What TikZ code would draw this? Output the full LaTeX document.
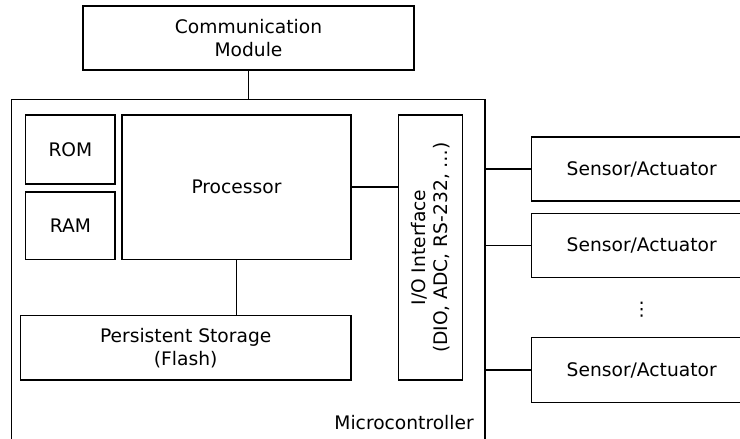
\documentclass[tikz,border=0pt]{standalone}
\usepackage{fontspec}
\setmainfont{DejaVu Sans}
\begin{document}
\begin{tikzpicture}[x=0.75pt,y=-0.75pt,
  box/.style={draw=black,line width=1.1pt,inner sep=0pt,align=center,
    font=\fontsize{14pt}{17pt}\selectfont},
  wire/.style={draw=black,line width=1.1pt},
  lbl/.style={inner sep=0pt,font=\fontsize{14pt}{17pt}\selectfont}]
\useasboundingbox (0,0) rectangle (740,439);
\begin{scope}
\clip (0,0) rectangle (740,439);
% outer microcontroller frame (runs past the lower edge)
\node[box,minimum width=473.3*0.75pt,minimum height=360.7*0.75pt] (micro) at (248.35,279.65) {};
% sensor boxes (run past the right edge)
\node[box,minimum width=220*0.75pt,minimum height=64*0.75pt] (s1) at (641.7,169) {Sensor/Actuator};
\node[box,minimum width=220*0.75pt,minimum height=64*0.75pt] (s2) at (641.7,245.7) {Sensor/Actuator};
\node[box,minimum width=220*0.75pt,minimum height=64.6*0.75pt] (s3) at (641.7,370) {Sensor/Actuator};
\end{scope}
\node[lbl] (dots) at (641.7,310) {⋮};
\node[lbl,anchor=base east] (microlbl) at (474,429) {Microcontroller};

\node[box,minimum width=331*0.75pt,minimum height=64*0.75pt] (comm) at (248.5,38) {Communication\\Module};
\node[box,minimum width=89.3*0.75pt,minimum height=69*0.75pt] (rom) at (70.4,149.5) {ROM};
\node[box,minimum width=89.3*0.75pt,minimum height=67.3*0.75pt] (ram) at (70.4,225.7) {RAM};
\node[box,minimum width=229*0.75pt,minimum height=144.3*0.75pt] (proc) at (236.5,187.2) {Processor};
\node[box,minimum width=330.7*0.75pt,minimum height=64.3*0.75pt] (store) at (185.7,347.9) {Persistent Storage\\(Flash)};
\node[box,minimum width=64.4*0.75pt,minimum height=265*0.75pt] (io) at (430.5,247.5) {};
\node[lbl,rotate=90,align=center] (iotext) at (io.center) {I/O Interface\\(DIO, ADC, RS-232, …)};

% connections
\draw[wire] (comm.south) -- (comm.south |- micro.north);
\draw[wire] (proc.east) -- (proc.east -| io.west);
\draw[wire] (proc.south) -- (proc.south |- store.north);
\draw[wire] (s1.west -| micro.east) -- (s1.west);
\draw[wire] (s2.west -| micro.east) -- (s2.west);
\draw[wire] (s3.west -| micro.east) -- (s3.west);
\end{tikzpicture}
\end{document}
